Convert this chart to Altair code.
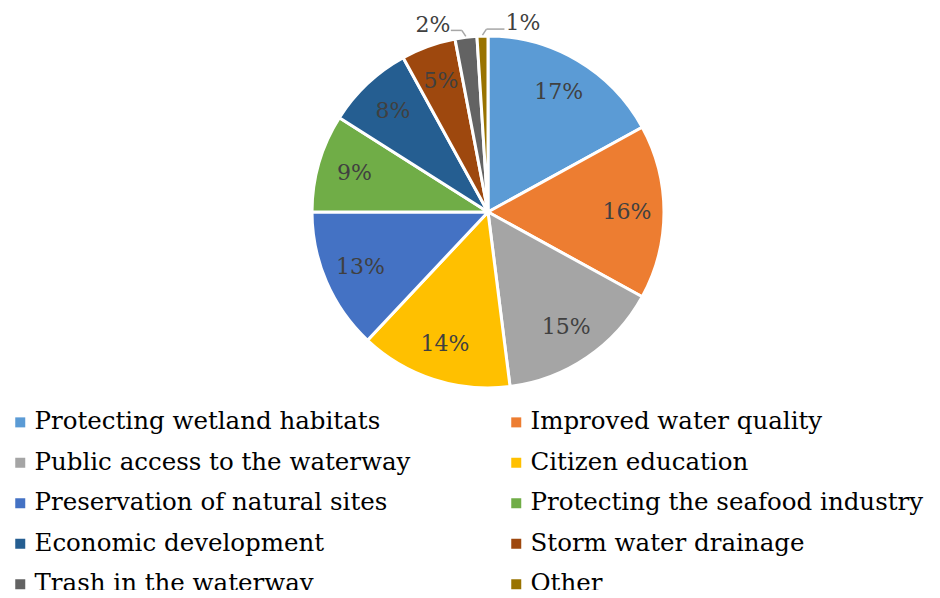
import altair as alt
import pandas as pd

categories = [
    "Protecting wetland habitats",
    "Improved water quality",
    "Public access to the waterway",
    "Citizen education",
    "Preservation of natural sites",
    "Protecting the seafood industry",
    "Economic development",
    "Storm water drainage",
    "Trash in the waterway",
    "Other",
]
values = [17, 16, 15, 14, 13, 9, 8, 5, 2, 1]
colors = ["#5B9BD5", "#ED7D31", "#A5A5A5", "#FFC000", "#4472C4",
          "#70AD47", "#255E91", "#9E480E", "#636363", "#997300"]

df = pd.DataFrame({
    "category": categories,
    "value": values,
    "idx": list(range(len(categories))),
})
df["label"] = [f"{v}%" for v in values]

FONT = "DejaVu Serif"
CX, CY, R = 480, 204, 176

base = alt.Chart(df).encode(
    theta=alt.Theta("value:Q", stack=True),
    order=alt.Order("idx:Q"),
    x=alt.value(CX),
    y=alt.value(CY),
)

pie = base.mark_arc(outerRadius=R, stroke="white", strokeWidth=3).encode(
    color=alt.Color(
        "category:N",
        scale=alt.Scale(domain=categories, range=colors),
        sort=categories,
        legend=alt.Legend(
            orient="none", legendX=0, legendY=402, columns=2, title=None,
            direction="horizontal",
            symbolType="square", symbolSize=100, symbolStrokeWidth=0,
            labelFont=FONT, labelFontSize=24.5, labelColor="black",
            labelOffset=2, labelLimit=0, columnPadding=93, rowPadding=15.5,
            padding=0,
        ),
    )
)

inside = base.transform_calculate(
    txt="datum.value >= 5 ? datum.label : ''"
).mark_text(radius=139, font=FONT, fontSize=22, color="#404040").encode(
    text="txt:N"
)

out2 = base.transform_calculate(
    txt="datum.value == 2 ? datum.label : ''"
).mark_text(radius=192, dx=-31, dy=3, font=FONT, fontSize=22, color="#404040").encode(
    text="txt:N"
)

out1 = base.transform_calculate(
    txt="datum.value == 1 ? datum.label : ''"
).mark_text(radius=192, dx=41, dy=3, font=FONT, fontSize=22, color="#404040").encode(
    text="txt:N"
)

# leader lines for the small outside labels, derived from the slice geometry
lead = alt.Chart(df).transform_joinaggregate(
    total="sum(value)"
).transform_window(
    cum="sum(value)", sort=[alt.SortField("idx")]
).transform_filter(
    "datum.value < 3"
).transform_calculate(
    ang="2 * PI * (datum.cum - datum.value / 2) / datum.total",
    s="datum.value == 2 ? -1 : 1",
    hlen="datum.value == 2 ? 11 : 18",
).transform_calculate(
    px=f"{CX} + {R + 1} * sin(datum.ang)",
    py=f"{CY} - {R + 1} * cos(datum.ang)",
).transform_calculate(
    ex="datum.px + datum.s * 4",
    ey="datum.py - 6",
).transform_calculate(
    hx="datum.ex + datum.s * datum.hlen",
)

lead_diag = lead.mark_rule(color="#A6A6A6", strokeWidth=1.5).encode(
    x=alt.X("px:Q", scale=None), y=alt.Y("py:Q", scale=None),
    x2="ex:Q", y2="ey:Q",
)
lead_h = lead.mark_rule(color="#A6A6A6", strokeWidth=1.5).encode(
    x=alt.X("ex:Q", scale=None), y=alt.Y("ey:Q", scale=None),
    x2="hx:Q", y2="ey:Q",
)

chart = alt.layer(pie, inside, out2, out1, lead_diag, lead_h).properties(
    width=924, height=582,
    autosize=alt.AutoSizeParams(type="none"),
    padding=0,
).configure_view(stroke=None)

chart.save("out.html", embed_options={"renderer": "svg", "actions": False})
